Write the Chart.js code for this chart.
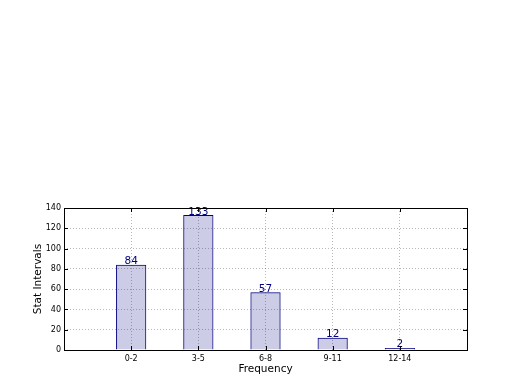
<!DOCTYPE html>
<html><head><meta charset="utf-8">
<script src="https://cdn.jsdelivr.net/npm/chart.js@4.4.1/dist/chart.umd.min.js"></script>
<style>html,body{margin:0;padding:0;background:#fff}#wrap{width:520px;height:390px}</style>
</head><body><div id="wrap"><canvas id="c" width="520" height="390"></canvas></div>
<script>
const categories = ['0-2', '3-5', '6-8', '9-11', '12-14'];
const values = [84, 133, 57, 12, 2];
const yTicks = [0, 20, 40, 60, 80, 100, 120, 140];

const labels = [''].concat(categories, ['']);
const data = [null].concat(values, [null]);
const FONT = "'DejaVu Sans', sans-serif";
const GRID = 'rgba(0,0,0,0.28)';

const framePlugin = {
  id: 'frame',
  afterDatasetsDraw(chart) {
    const ctx = chart.ctx, a = chart.chartArea;
    const xs = chart.scales.x, ys = chart.scales.y;
    ctx.save();
    // value labels
    const meta = chart.getDatasetMeta(0);
    ctx.fillStyle = '#000080';
    ctx.font = '10.5px ' + FONT;
    ctx.textAlign = 'center';
    ctx.textBaseline = 'bottom';
    meta.data.forEach((el, i) => {
      const v = data[i];
      if (v === null) return;
      ctx.fillText(String(v), el.x, el.y + 2);
    });
    // frame
    ctx.strokeStyle = '#000';
    ctx.lineWidth = 1;
    ctx.strokeRect(Math.round(a.left) + 0.5, Math.round(a.top) + 0.5, Math.round(a.right - a.left), Math.round(a.bottom - a.top));
    // inward ticks
    ctx.beginPath();
    yTicks.forEach(t => {
      const y = Math.round(ys.getPixelForValue(t)) + 0.5;
      ctx.moveTo(a.left, y); ctx.lineTo(a.left + 4, y);
      ctx.moveTo(a.right, y); ctx.lineTo(a.right - 4, y);
    });
    categories.forEach((c, i) => {
      const x = Math.round(xs.getPixelForValue(i + 1)) + 0.5;
      ctx.moveTo(x, a.bottom); ctx.lineTo(x, a.bottom - 4);
      ctx.moveTo(x, a.top); ctx.lineTo(x, a.top + 4);
    });
    ctx.stroke();
    ctx.restore();
  }
};

new Chart(document.getElementById('c'), {
  type: 'bar',
  data: {
    labels: labels,
    datasets: [{
      data: data,
      backgroundColor: 'rgba(0,0,128,0.2)',
      borderColor: '#000080',
      borderWidth: 1,
      barPercentage: 0.45,
      categoryPercentage: 1
    }]
  },
  options: {
    responsive: false,
    animation: false,
    events: [],
    layout: { padding: { top: 208, right: 53, left: 0, bottom: 0 } },
    plugins: { legend: { display: false }, tooltip: { enabled: false } },
    scales: {
      x: {
        type: 'category',
        offset: false,
        afterFit(s) { s.height = 40; },
        grid: { offset: false, color: GRID, drawTicks: false, lineWidth: 1 },
        border: { display: false, dash: [1, 2] },
        ticks: { font: { family: FONT, size: 8 }, color: '#000', padding: 4, maxRotation: 0, autoSkip: false },
        title: { display: true, text: 'Frequency', font: { family: FONT, size: 10.5 }, color: '#000', padding: { top: 0, bottom: 14 } }
      },
      y: {
        min: 0, max: 140,
        afterFit(s) { s.width = 64; },
        afterBuildTicks(s) { s.ticks = yTicks.map(v => ({ value: v })); },
        grid: { color: GRID, drawTicks: false, lineWidth: 1 },
        border: { display: false, dash: [1, 2] },
        ticks: { font: { family: FONT, size: 8 }, color: '#000', padding: 3 },
        title: { display: true, text: 'Stat Intervals', font: { family: FONT, size: 10.5 }, color: '#000', padding: { top: 32, bottom: 0 } }
      }
    }
  },
  plugins: [framePlugin]
});
</script></body></html>
